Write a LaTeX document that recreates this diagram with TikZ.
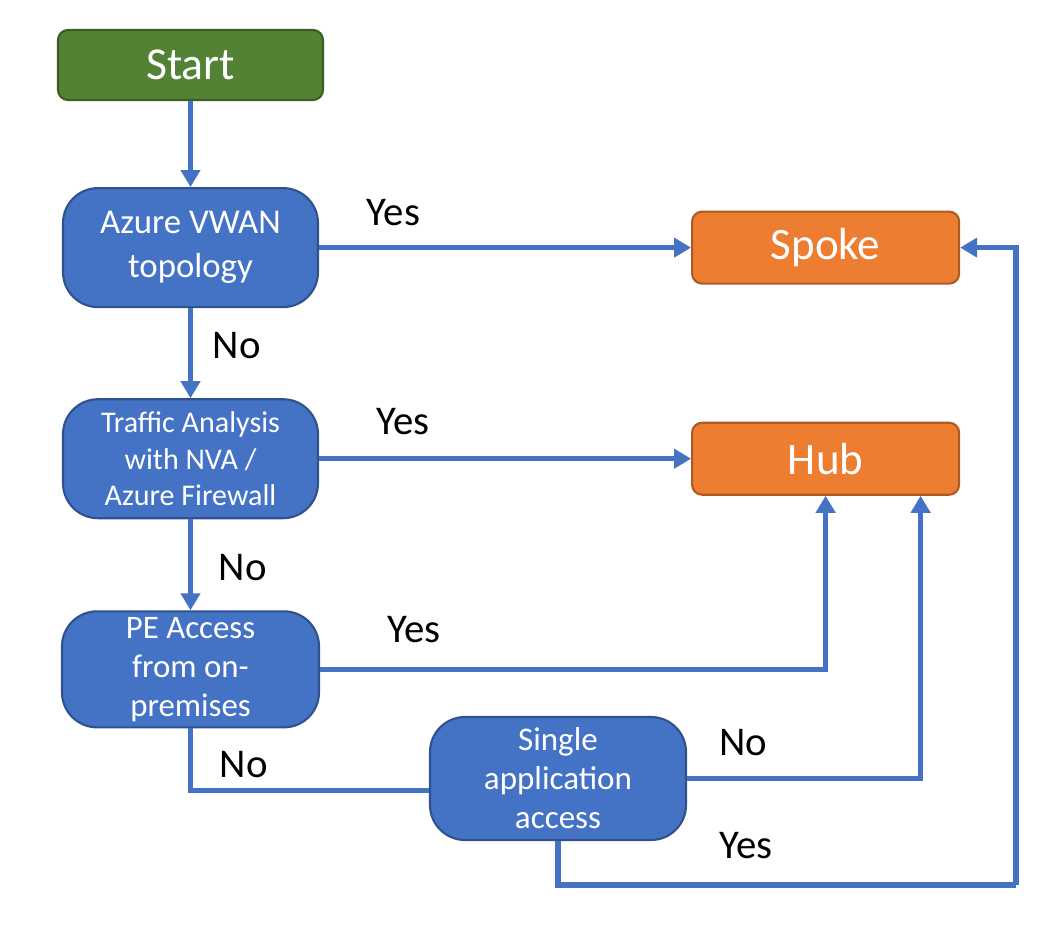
\documentclass[tikz,border=0pt]{standalone}
\usepackage{fontspec}
\setmainfont{Carlito}
\usetikzlibrary{positioning,arrows.meta}

\definecolor{startgreen}{HTML}{548235}
\definecolor{startborder}{HTML}{3B5E24}
\definecolor{boxblue}{HTML}{4472C4}
\definecolor{boxborder}{HTML}{2F528F}
\definecolor{resorange}{HTML}{ED7D31}
\definecolor{resborder}{HTML}{AE5A21}

\tikzset{
  decision/.style={draw=boxborder, line width=0.6pt, fill=boxblue, text=white,
    rounded corners=0.35cm, minimum width=2.55cm, minimum height=1.19cm,
    inner sep=0pt, align=center},
  result/.style={draw=resborder, line width=0.6pt, fill=resorange, text=white,
    rounded corners=0.1cm, minimum width=2.67cm, minimum height=0.72cm,
    font=\fontsize{12.8}{15}\selectfont},
  flow/.style={draw=boxblue, line width=1.5pt, -{Triangle[length=0.17cm, width=0.19cm]}},
  lbl/.style={font=\fontsize{11.6}{14}\selectfont, text=black},
}

\begin{document}
\begin{tikzpicture}
            
            \useasboundingbox (0,0) rectangle (10.63,-9.30);
            
            % Nodes
            
            \node[draw=startborder, line width=0.6pt, fill=startgreen, text=white, rounded corners=0.1cm,
              minimum width=2.65cm, minimum height=0.70cm, font=\fontsize{13}{15}\selectfont] (start) at (1.905,-0.65) {Start};
            \node[decision, below=0.86 of start, font=\fontsize{9.9}{12.4}\selectfont] (vwan) {Azure VWAN\\topology};
            \node[decision, below=0.9 of vwan, font=\fontsize{8.55}{10.4}\selectfont] (traffic) {Traffic Analysis\\with NVA /\\Azure Firewall};
            \node[decision, below=0.91 of traffic, minimum width=2.57cm, minimum height=1.16cm, font=\fontsize{9.35}{11.1}\selectfont] (pe) {PE Access\\from on-\\premises};
            \node[decision, minimum width=2.56cm, minimum height=1.23cm, font=\fontsize{9.4}{11.1}\selectfont] (single) at (5.58,-7.785) {Single\\application\\access};
            \node[result, right=3.72 of vwan] (spoke) {Spoke};
            \node[result, right=3.72 of traffic] (hub) {Hub};
            
            \coordinate (loop) at (10.16,-8.85);
            
            % Edges
            
            \draw[flow] (start) -- (vwan);
            \draw[flow] (vwan) -- (spoke) node [pos=0.2, above=0.07, lbl] {Yes};
            \draw[flow] (vwan) -- (traffic) node [pos=0.42, right=0.08, lbl] {No};
            \draw[flow] (traffic) -- (hub) node [pos=0.226, above=0.1, lbl] {Yes};
            \draw[flow] (traffic) -- (pe) node [pos=0.53, right=0.14, lbl] {No};
            \draw[flow] (pe) -| (hub) node [pos=0.093, above=0.12, lbl] {Yes};
            \draw[flow, -] (pe.south) |- ([yshift=-0.12cm]single.west) node [pos=0.29, right=0.15, lbl] {No};
            \draw[flow] (single) -| ([xshift=0.95cm]hub.south) node [pos=0.12, above=0.08, lbl] {No};
            \draw[flow, -] (single.south) |- (loop) node [pos=0.705, above=0.12, lbl] {Yes};
            \draw[flow] (loop) |- (spoke.east);
            
\end{tikzpicture}
\end{document}
